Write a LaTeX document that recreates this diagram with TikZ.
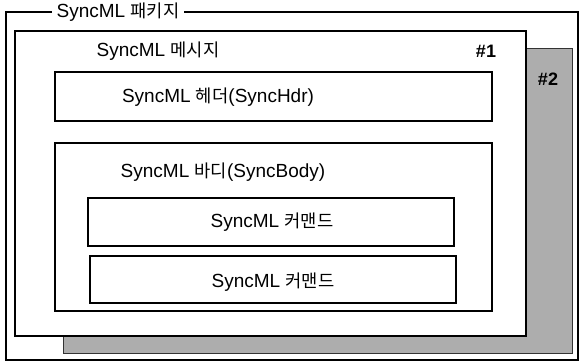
\documentclass[tikz,border=0pt]{standalone}
\usepackage{fontspec}
\setmainfont{Liberation Sans}
\newfontfamily\kr{Noto Sans CJK KR}[Scale=0.93]
\begin{document}
\begin{tikzpicture}[x=1pt,y=-1pt,
  frame/.style={draw=black,line width=1.1pt},
  lbl/.style={font=\fontsize{19}{22}\selectfont,inner sep=1pt},
  numlbl/.style={font=\fontsize{18}{22}\selectfont\bfseries,inner sep=1pt},
  graybox/.style={draw=black!80,line width=0.8pt,fill=black!32},
  whitebox/.style={frame,fill=white}]
\useasboundingbox (0,0) rectangle (581,363);
% package frame
\draw[frame] (6,12) rectangle (578,360);
\node[lbl,fill=white,inner xsep=5pt] (pkg) at (118,12) {SyncML {\kr 패키지}};
% message #2 (behind)
\draw[graybox] (63,48) rectangle (572,353);
\node[numlbl] (n2) at (548,79) {\#2};
% message #1
\draw[whitebox] (15,31) rectangle (526,336);
\node[lbl] (msg) at (158,51) {SyncML {\kr 메시지}};
\node[numlbl] (n1) at (486,51) {\#1};
% header
\draw[whitebox] (55,72) rectangle (492,121);
\node[lbl] (hdr) at (218,97) {SyncML {\kr 헤더}(SyncHdr)};
% body
\draw[whitebox] (55,143) rectangle (492,311);
\node[lbl] (body) at (223,172) {SyncML {\kr 바디}(SyncBody)};
% commands
\draw[whitebox] (88,198) rectangle (454,246);
\node[lbl] (c1) at (272,222) {SyncML {\kr 커맨드}};
\draw[whitebox] (90,256) rectangle (456,303);
\node[lbl] (c2) at (273,282) {SyncML {\kr 커맨드}};
\end{tikzpicture}
\end{document}
